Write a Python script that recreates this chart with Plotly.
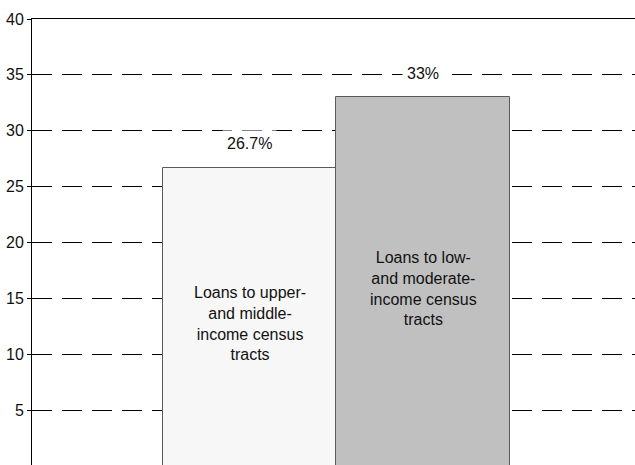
import plotly.graph_objects as go

categories = ["Upper- and middle-income", "Low- and moderate-income"]
values = [26.7, 33.0]
value_labels = ["26.7%", "33%"]
inside_labels = [
    "Loans to upper-<br>and middle-<br>income census<br>tracts",
    "Loans to low-<br>and moderate-<br>income census<br>tracts",
]
bar_colors = ["#f7f7f7", "#c0c0c0"]
y_ticks = [0, 5, 10, 15, 20, 25, 30, 35, 40]

FONT = "Liberation Sans, Arial, sans-serif"

fig = go.Figure()
fig.add_trace(go.Bar(
    x=[0, 1],
    y=values,
    width=1,
    marker=dict(color=bar_colors, line=dict(color="#5a5a5a", width=1)),
    hoverinfo="skip",
    showlegend=False,
))

for i, (v, lab, inner) in enumerate(zip(values, value_labels, inside_labels)):
    fig.add_annotation(
        x=i, y=v, text=lab, showarrow=False,
        yanchor="middle", yshift=24,
        font=dict(family=FONT, size=16, color="#111111"),
        bgcolor="white", borderpad=4,
    )
    fig.add_annotation(
        x=i, y=v / 2, text=inner, showarrow=False,
        yanchor="middle", yshift=-7,
        font=dict(family=FONT, size=16, color="#111111"),
    )

fig.update_layout(
    width=635, height=467,
    margin=dict(l=32, r=0, t=18.5, b=1),
    paper_bgcolor="white",
    plot_bgcolor="white",
    bargap=0,
    font=dict(family=FONT, size=16, color="#111111"),
)
fig.update_xaxes(
    range=[-1.255, 2.2205],
    showticklabels=False, ticks="",
    showgrid=False, zeroline=False,
    showline=True, linecolor="black", linewidth=1, mirror=True,
)
fig.update_yaxes(
    range=[0, 40],
    tickvals=y_ticks,
    ticks="outside", ticklen=4, tickcolor="black", tickwidth=1,
    showgrid=True, gridcolor="black", gridwidth=1, griddash="20px,10px",
    zeroline=False,
    showline=True, linecolor="black", linewidth=1,
    tickfont=dict(family=FONT, size=16, color="#111111"),
)

fig.write_html(
    "out.html",
    config={"displayModeBar": False},
    post_script=(
        "document.body.style.margin='0';"
        "document.body.style.overflow='hidden';"
        "document.documentElement.style.overflow='hidden';"
    ),
)
